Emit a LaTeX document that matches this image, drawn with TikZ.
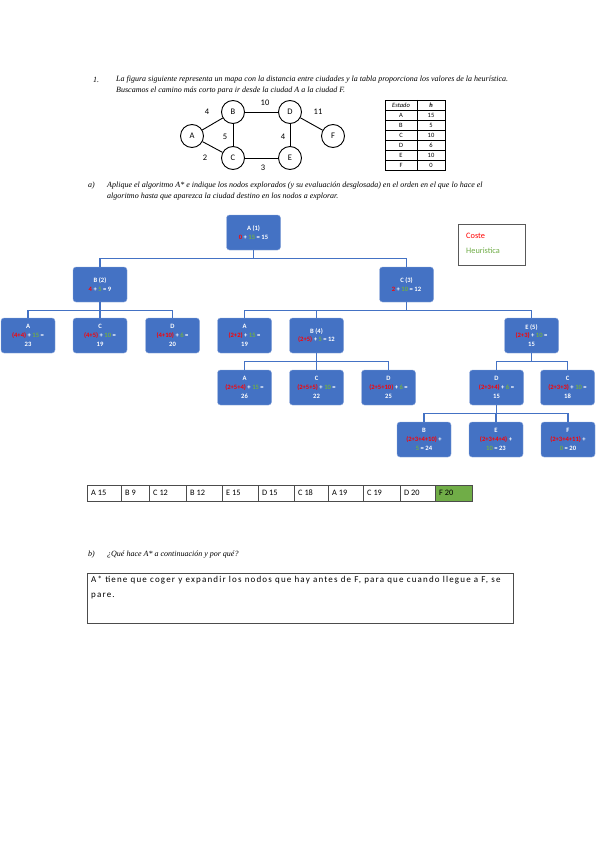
\documentclass[tikz,border=0pt]{standalone}
\usepackage{fontspec}
\setmainfont{Carlito}
\newfontfamily\serifit{Liberation Serif}
\newfontfamily\spaced[LetterSpace=13]{Carlito}
\usetikzlibrary{positioning, calc}
\definecolor{nodeblue}{HTML}{4472C4}
\definecolor{nodeedge}{HTML}{8FAADC}
\definecolor{costred}{HTML}{FF0000}
\definecolor{heurgreen}{HTML}{70AD47}
\newcommand{\co}[1]{\textcolor{costred}{#1}}
\newcommand{\he}[1]{\textcolor{heurgreen}{#1}}
\begin{document}
\begin{tikzpicture}[x=1pt,y=-1pt, tn/.style={rectangle,draw=nodeedge,fill=nodeblue,text=white,rounded corners=3pt,minimum width=54pt,minimum height=35pt,inner sep=1pt,align=center,font=\fontsize{6.6}{8.7}\selectfont\bfseries}, lk/.style={draw=nodeblue,line width=1.1pt}, city/.style={circle,draw,line width=0.9pt,minimum size=23pt,inner sep=0pt,font=\fontsize{8.5}{9}\selectfont}, road/.style={line width=0.9pt}, wt/.style={font=\fontsize{8.5}{9}\selectfont}, txt/.style={anchor=west,inner sep=0pt,font=\serifit\itshape\fontsize{8}{9}\selectfont}, cell/.style={anchor=west,inner sep=0pt,font=\fontsize{8.3}{9}\selectfont}]
  \useasboundingbox[fill=white] (0,0) rectangle (599,848);
  % enunciado
  \node[txt](n1) at (93,80){1.};
  \node[txt](t1) at (116,80){La figura siguiente representa un mapa con la distancia entre ciudades y la tabla proporciona los valores de la heurística.};
  \node[txt](t2) at (116,91){Buscamos el camino más corto para ir desde la ciudad A a la ciudad F.};
  % mapa
  \node[city](A) at (192,136){A};
  \node[city](B) at (233,112){B};
  \node[city](D) at (290,112){D};
  \node[city](F) at (333,136){F};
  \node[city](C) at (233,158){C};
  \node[city](E) at (290,158){E};
  \foreach \x/\y in {A/B,A/C,B/C,B/D,C/E,D/E,D/F}{\draw[road](\x)--(\y);}
  \node[wt](w1) at (207,112){4};
  \node[wt](w2) at (265,103){10};
  \node[wt](w3) at (318,112){11};
  \node[wt](w4) at (225,137){5};
  \node[wt](w5) at (283,137){4};
  \node[wt](w6) at (205,158){2};
  \node[wt](w7) at (263,168){3};
  % tabla heuristica
  \draw[line width=0.6pt](385,100) rectangle (445,170);
  \draw[line width=0.6pt](417,100)--(417,170);
  \foreach \r in {1,...,6}{\draw[line width=0.6pt](385,100+10*\r)--(445,100+10*\r);}
  \node[font=\fontsize{6.5}{7}\selectfont\itshape](hd1) at (401,105){Estado};
  \node[font=\fontsize{6.5}{7}\selectfont\itshape\bfseries](hd2) at (431,105){h};
  \foreach \s/\v [count=\i] in {A/15,B/5,C/10,D/6,E/10,F/0}{
    \node[font=\fontsize{6.5}{7}\selectfont](st\i) at (401,105+10*\i){\s};
    \node[font=\fontsize{6.5}{7}\selectfont](hv\i) at (431,105+10*\i){\v};}
  \node[txt](na) at (88,186){a)};
  \node[txt](t3) at (107,186){Aplique el algoritmo A* e indique los nodos explorados (y su evaluación desglosada) en el orden en el que lo hace el};
  \node[txt](t4) at (107,197){algoritmo hasta que aparezca la ciudad destino en los nodos a explorar.};
  % arbol A*
  \node[tn](a1) at (253.5,232.5){A (1)\\\co{0} + \he{15} = 15};
  \node[tn](b2) at (100,284.5){B (2)\\\co{4} + \he{5} = 9};
  \node[tn](c3) at (406.5,284.5){C (3)\\\co{2} + \he{10} = 12};
  \node[tn](ba) at (28,335.5){A\\\co{(4+4)} + \he{15} =\\23};
  \node[tn](bc) at (100,335.5){C\\\co{(4+5)} + \he{10} =\\19};
  \node[tn](bd) at (172.5,335.5){D\\\co{(4+10)} + \he{6} =\\20};
  \node[tn](ca) at (244.5,335.5){A\\\co{(2+2)} + \he{15} =\\19};
  \node[tn](b4) at (316.5,335.5){B (4)\\\co{(2+5)} + \he{5} = 12};
  \node[tn](e5) at (531.5,335.5){E (5)\\\co{(2+3)} + \he{10} =\\15};
  \node[tn](fa) at (244.5,387.5){A\\\co{(2+5+4)} + \he{15} =\\26};
  \node[tn](fc) at (316.5,387.5){C\\\co{(2+5+5)} + \he{10} =\\22};
  \node[tn](fd) at (388.5,387.5){D\\\co{(2+5+10)} + \he{6} =\\25};
  \node[tn](ed) at (496.5,387.5){D\\\co{(2+3+4)} + \he{6} =\\15};
  \node[tn](ec) at (567.5,387.5){C\\\co{(2+3+3)} + \he{10} =\\18};
  \node[tn](db) at (424,439.5){B\\\co{(2+3+4+10)} +\\\he{5} = 24};
  \node[tn](de) at (496,439.5){E\\\co{(2+3+4+4)} +\\\he{10} = 23};
  \node[tn](df) at (568,439.5){F\\\co{(2+3+4+11)} +\\\he{0} = 20};
  \foreach \x/\y in {a1/b2,a1/c3,b2/ba,b2/bc,b2/bd,c3/ca,c3/b4,c3/e5,b4/fa,b4/fc,b4/fd,e5/ed,e5/ec,ed/db,ed/de,ed/df}{\draw[lk](\x.south)--++(0,8.5)-|(\y.north);}
  % leyenda
  \draw[draw=black!65,line width=1pt](458,224) rectangle (525,265);
  \node[cell,text=costred](lg1) at (466,236){Coste};
  \node[cell,text=heurgreen](lg2) at (466,251){Heuristica};
  % orden de expansion
  \fill[heurgreen](435,485) rectangle (472,501);
  \foreach \a/\b/\t [count=\i] in {87/121/A 15,121/149/B 9,149/186/C 12,186/222/B 12,222/258/E 15,258/294/D 15,294/328/C 18,328/363/A 19,363/400/C 19,400/435/D 20,435/472/F 20}{
    \draw[black!70,line width=0.6pt](\a,485) rectangle (\b,501);
    \node[cell](s\i) at (\a+4,493){\t};}
  % apartado b
  \node[txt](nb) at (88,555){b)};
  \node[txt](t5) at (107,555){¿Qué hace A* a continuación y por qué?};
  \draw[black!70,line width=0.8pt](87,573) rectangle (513,623);
  \node[anchor=north west,inner sep=0pt,align=left,font=\spaced\fontsize{9}{15}\selectfont](ans) at (91,576){A* tiene que coger y expandir los nodos que hay antes de F, para que cuando llegue a F, se\\pare.};
\end{tikzpicture}
\end{document}
